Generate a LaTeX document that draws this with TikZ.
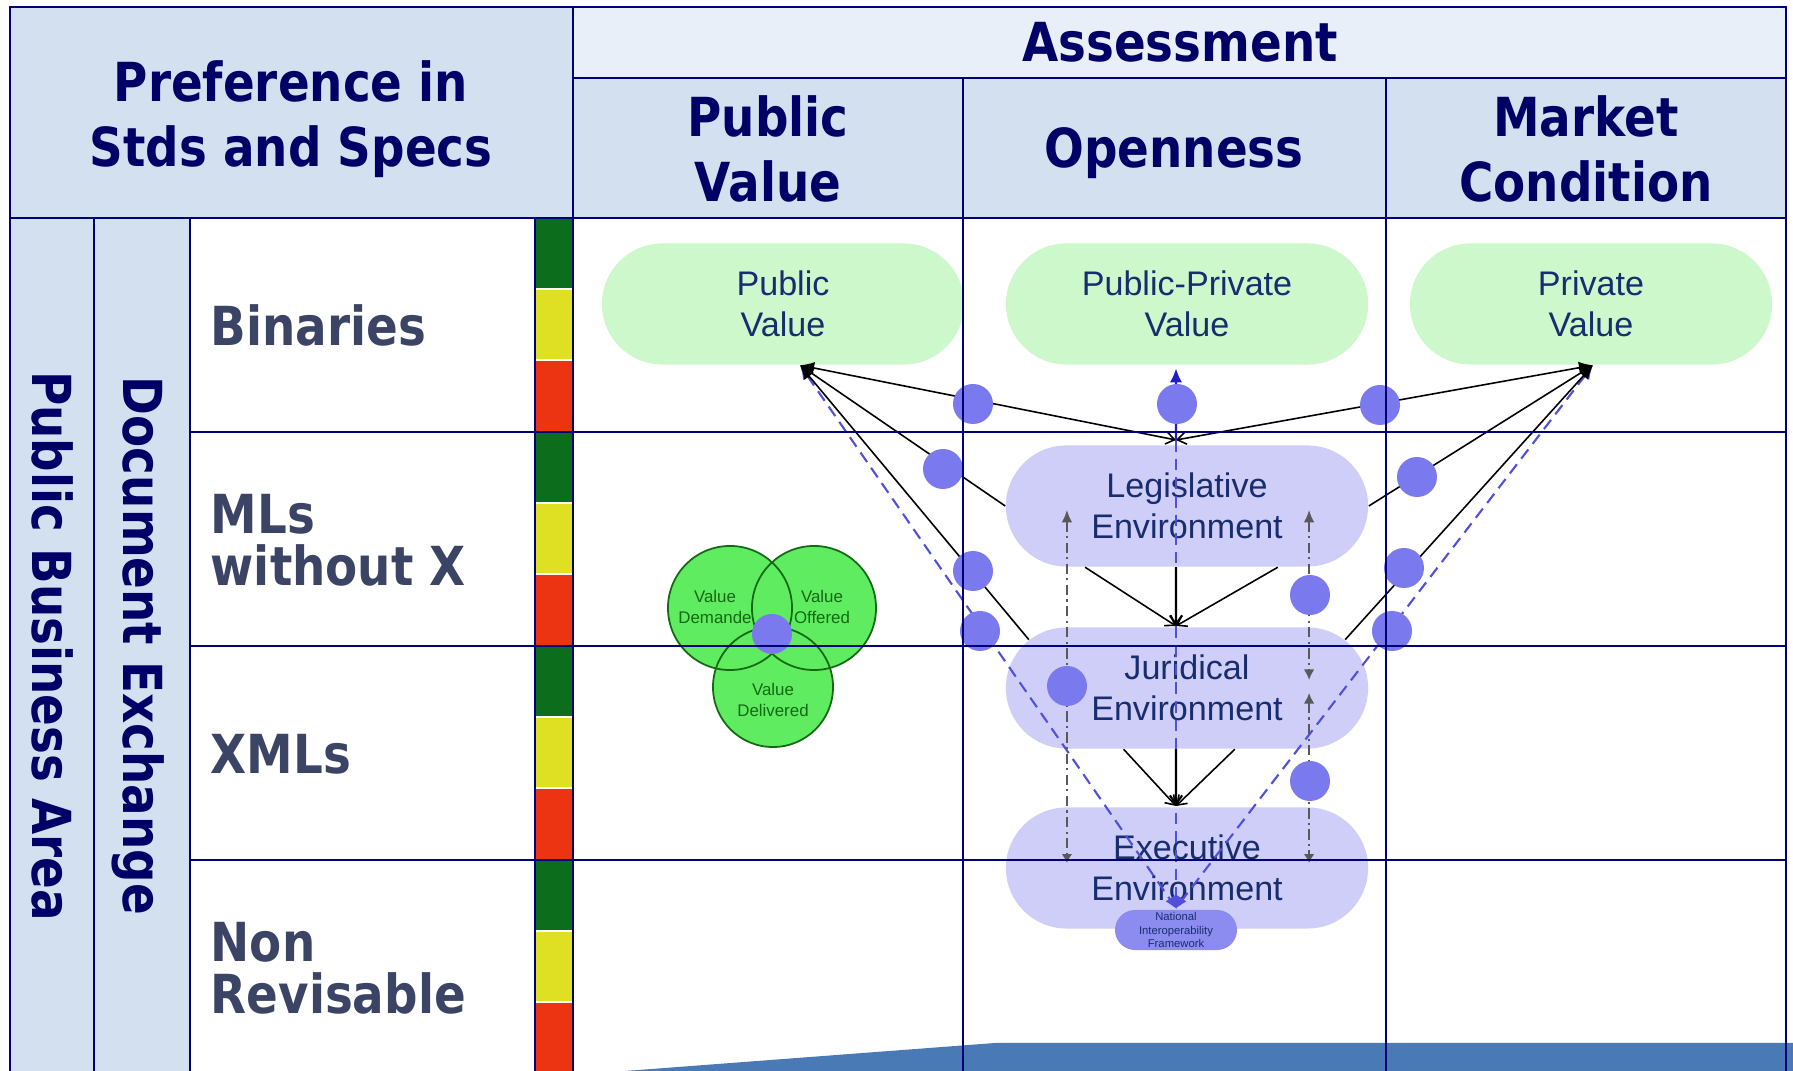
\documentclass[tikz,border=0pt]{standalone}
\usepackage{fontspec}
\usetikzlibrary{shapes.misc,arrows.meta}

\newfontfamily\headfont[FakeStretch=0.87]{DejaVu Sans}
\newfontfamily\pillfont{Liberation Sans}

\definecolor{gridblue}{RGB}{0,0,120}
\definecolor{headnavy}{RGB}{0,0,102}
\definecolor{rowslate}{RGB}{60,68,102}
\definecolor{headfill}{RGB}{211,224,240}
\definecolor{assessfill}{RGB}{232,239,248}
\definecolor{valuegreen}{RGB}{204,248,204}
\definecolor{envlilac}{RGB}{206,206,248}
\definecolor{niflilac}{RGB}{140,140,240}
\definecolor{dotblue}{RGB}{122,122,238}
\definecolor{pilltext}{RGB}{25,45,110}
\definecolor{venngreen}{RGB}{96,236,96}
\definecolor{venndark}{RGB}{20,105,20}
\definecolor{barred}{RGB}{236,52,18}
\definecolor{baryellow}{RGB}{224,224,34}
\definecolor{bargreen}{RGB}{12,110,28}
\definecolor{dashblue}{RGB}{80,80,220}
\definecolor{arrowblue}{RGB}{30,30,200}
\definecolor{slideblue}{RGB}{74,122,181}

\tikzset{
	tabline/.style={draw=gridblue, line width=0.65pt},
	headtxt/.style={text=headnavy, align=center, font=\headfont\bfseries\fontsize{15.3}{18.3}\selectfont},
	rowtxt/.style={text=rowslate, align=left, anchor=west, inner xsep=0pt, font=\headfont\bfseries\fontsize{15.3}{14.8}\selectfont},
	sidetxt/.style={text=headnavy, rotate=-90, font=\headfont\bfseries\fontsize{15.3}{18}\selectfont},
	pill/.style={rounded rectangle, inner sep=0pt, minimum width=3.62cm, minimum height=1.21cm, align=center, text=pilltext, font=\pillfont\fontsize{9.7}{11.7}\selectfont},
	valuepill/.style={pill, fill=valuegreen},
	envpill/.style={pill, fill=envlilac},
	nifpill/.style={rounded rectangle, inner sep=0pt, fill=niflilac, minimum width=1.22cm, minimum height=0.4cm, align=center, text=pilltext, font=\pillfont\fontsize{3.2}{3.9}\selectfont},
	venntxt/.style={align=center, text=venndark, font=\pillfont\fontsize{4.8}{6}\selectfont},
	link/.style={black, line width=0.45pt},
	bluelink/.style={draw=arrowblue, line width=0.7pt},
	dashlink/.style={draw=dashblue, line width=0.6pt, dash pattern=on 3.3pt off 2pt},
	guide/.style={draw=black!65, line width=0.5pt, dash pattern=on 3pt off 1.2pt on 0.6pt off 1.2pt},
	bluedot/.style={fill=dotblue},
}

\begin{document}
\begin{tikzpicture}[x=0.01cm, y=-0.01cm]

	\useasboundingbox (0,0) rectangle (1793,1071);
	\clip (0,0) rectangle (1793,1071);
	\fill [white] (0,0) rectangle (1793,1071);

	% Header cells
	\fill [headfill] (10,7) rectangle (573,218);
	\fill [assessfill] (573,7) rectangle (1786,78);
	\fill [headfill] (573,78) rectangle (1786,218);
	\fill [headfill] (10,218) rectangle (190,1090);

	% Colour scale per row
	\foreach \y in {218,432,646,860} {
		\fill [bargreen] (535,\y) rectangle (573,\y+70);
		\fill [baryellow] (535,\y+72) rectangle (573,\y+141);
		\fill [barred] (535,\y+143) rectangle (573,\y+214);
	}

	% Slide band
	\fill [slideblue] (612,1072) -- (995,1043) -- (1800,1043) -- (1800,1080) -- (612,1080) -- cycle;

	% Values and environments
	\node [valuepill] (pubval) at (783,304) {Public\\Value};
	\node [valuepill] (ppval) at (1187,304) {Public-Private\\Value};
	\node [valuepill] (privval) at (1591,304) {Private\\Value};
	\node [envpill] (legis) at (1187,506) {Legislative\\Environment};
	\node [envpill] (jurid) at (1187,688) {Juridical\\Environment};
	\node [envpill] (exec) at (1187,868) {Executive\\Environment};
	\node [nifpill] (nif) at (1176,930) {National\\Interoperability\\Framework};

	% Venn
	\fill [venngreen] (730,608) circle (0.62cm) (814,608) circle (0.62cm) (773,687) circle (0.6cm);
	\draw [venndark, line width=0.5pt] (730,608) circle (0.62cm) (814,608) circle (0.62cm) (773,687) circle (0.6cm);
	\node [venntxt] (vdem) at (715,607) {Value\\Demande};
	\node [venntxt] (voff) at (822,607) {Value\\Offered};
	\node [venntxt] (vdel) at (773,700) {Value\\Delivered};

	% Junctions
	\coordinate (pvtip) at ([xshift=0.17cm]pubval.south);
	\coordinate (prtip) at ([xshift=0.02cm]privval.south);
	\coordinate (pptip) at ([xshift=-0.11cm, yshift=-0.03cm]ppval.south);
	\coordinate (hubL) at (1176,440);
	\coordinate (hubJ) at (1176,626);
	\coordinate (hubE) at (1176,806);
	\coordinate (hubN) at (1176,908);

	% Dashed paths to the framework
	\draw [dashlink, {Latex[length=4pt,width=3.5pt]}-] (pvtip) -- (hubN);
	\draw [dashlink, {Latex[length=4pt,width=3.5pt]}-] (prtip) -- (hubN);
	\draw [dashlink, -{Diamond[length=3.8pt,width=5.8pt]}] (hubL) -- (hubN);

	% Links
	\draw [link, {Latex[length=4pt,width=3.5pt]}-{Straight Barb[length=2.5pt,width=3.5pt]}] (pvtip) -- (hubL);
	\draw [link, {Latex[length=4pt,width=3.5pt]}-] (pvtip) -- (legis.west);
	\draw [link, {Latex[length=4pt,width=3.5pt]}-] (pvtip) -- (jurid.163);
	\draw [link, {Latex[length=4pt,width=3.5pt]}-{Straight Barb[length=2.5pt,width=3.5pt]}] (prtip) -- (hubL);
	\draw [link, {Latex[length=4pt,width=3.5pt]}-] (prtip) -- (legis.east);
	\draw [link, {Latex[length=4pt,width=3.5pt]}-] (prtip) -- (jurid.17);
	\draw [bluelink, -{Latex[length=4pt,width=3.5pt]}] (hubL) -- (pptip);

	\draw [link, -{Straight Barb[length=2.5pt,width=3.5pt]}] (legis.-149) -- (hubJ);
	\draw [link, -{Straight Barb[length=2.5pt,width=3.5pt]}] (legis.-34) -- (hubJ);
	\draw [link, line width=0.6pt, -{Straight Barb[length=2.5pt,width=3.5pt]}] ([xshift=-0.11cm]legis.south) -- (hubJ);
	\draw [link, -{Straight Barb[length=2.5pt,width=3.5pt]}] (jurid.-136) -- (hubE);
	\draw [link, -{Straight Barb[length=2.5pt,width=3.5pt]}] (jurid.-52) -- (hubE);
	\draw [link, line width=0.6pt, -{Straight Barb[length=2.5pt,width=3.5pt]}] ([xshift=-0.11cm]jurid.south) -- (hubE);

	% Side guides
	\draw [guide, {Latex[length=3.5pt,width=3pt]}-{Latex[length=2.5pt,width=3pt]}] ([xshift=-1.2cm, yshift=-0.04cm]legis.center) -- ([xshift=-1.2cm, yshift=0.05cm]exec.center);
	\draw [guide, {Latex[length=3.5pt,width=3pt]}-{Latex[length=3pt,width=3pt]}] ([xshift=1.22cm, yshift=-0.04cm]legis.center) -- ([xshift=1.22cm, yshift=0.08cm]jurid.center);
	\draw [guide, {Latex[length=3pt,width=3pt]}-{Latex[length=2.5pt,width=3pt]}] ([xshift=1.22cm, yshift=-0.05cm]jurid.center) -- ([xshift=1.22cm, yshift=0.05cm]exec.center);

	% Dots
	\foreach \p in {(973,404),(1177,404),(1380,405),(943,469),(1417,477),(973,571),(1404,568),(980,631),(1392,631),(1310,595),(1067,686),(1310,781),(772,634)}
		\fill [bluedot] \p circle (0.2cm);

	% Headings
	\node [headtxt] (pref) at (291,119) {Preference in\\Stds and Specs};
	\node [headtxt] (assess) at (1180,42) {Assessment};
	\node [headtxt] (pubhead) at (768,149) {Public\\Value};
	\node [headtxt] (openhead) at (1174,153) {Openness};
	\node [headtxt] (markhead) at (1586,149) {Market\\Condition};

	\node [sidetxt] (area) at (53,646) {Public Business Area};
	\node [sidetxt] (docex) at (138,646) {Document Exchange};

	\node [rowtxt] (bin) at (210,325) {Binaries};
	\node [rowtxt] (mls) at (210,540) {MLs\\without X};
	\node [rowtxt] (xmls) at (210,754) {XMLs};
	\node [rowtxt] (nonrev) at (210,968) {Non\\Revisable};

	% Table lines
	\draw [tabline] (10,7) rectangle (1786,1090);
	\draw [tabline] (573,78) -- (1786,78);
	\draw [tabline] (10,218) -- (1786,218);
	\foreach \y in {432,646,860}
		\draw [tabline] (190,\y) -- (1786,\y);
	\foreach \x in {94,190,535,573}
		\draw [tabline] (\x,218) -- (\x,1090);
	\draw [tabline] (573,7) -- (573,218);
	\foreach \x in {963,1386}
		\draw [tabline] (\x,78) -- (\x,1090);

\end{tikzpicture}
\end{document}
